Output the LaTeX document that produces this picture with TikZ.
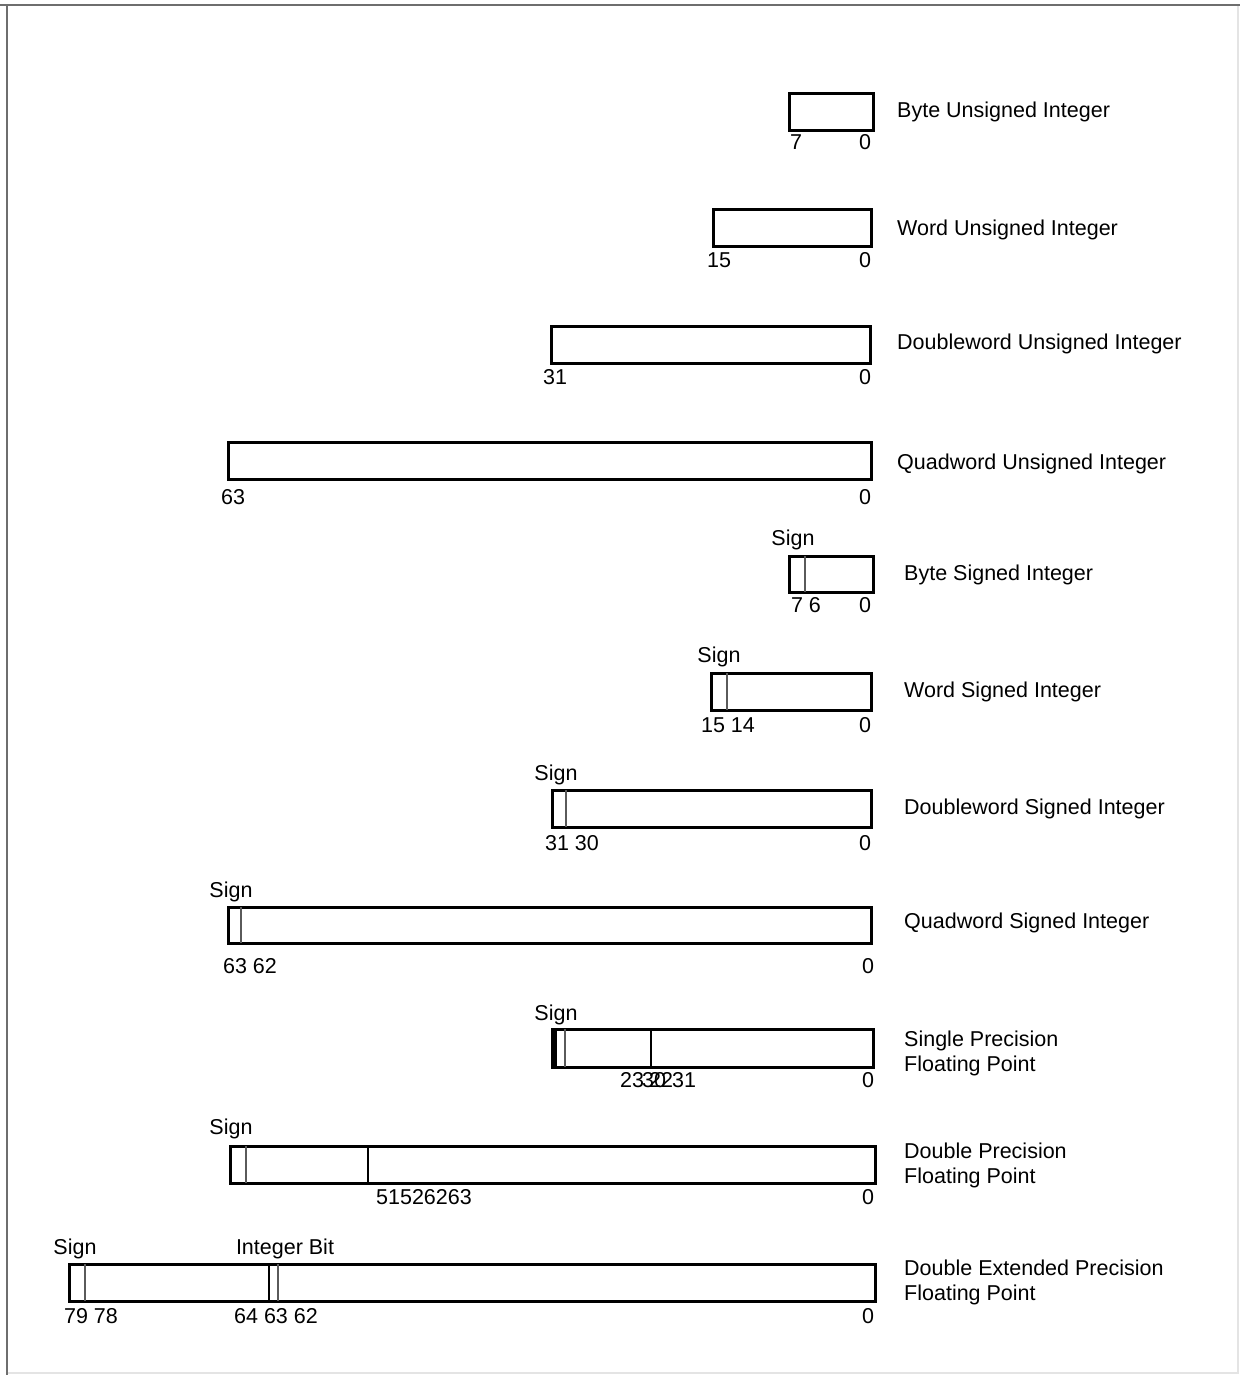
\documentclass[tikz,border=0pt]{standalone}
\usepackage{fontspec}
\setmainfont{Liberation Sans}
\usetikzlibrary{positioning}
\definecolor{FrameGray}{HTML}{6E6E6E}
\definecolor{EdgeGray}{HTML}{E4E4E4}
\definecolor{SplitGray}{HTML}{5A5A5A}
\tikzset{
    fieldbox/.style={
        draw=black,
        fill=white,
        line width=3pt
    },
    splitline/.style={
        draw=SplitGray,
        line width=1.6pt
    },
    bitlabel/.style={
        anchor=base,
        inner sep=0pt,
        font=\fontsize{21.5}{25}\selectfont
    },
    typelabel/.style={
        anchor=base west,
        inner sep=0pt,
        align=left,
        font=\fontsize{21.5}{25}\selectfont
    }
}
\begin{document}
\begin{tikzpicture}[x=1pt, y=-1pt]
    \useasboundingbox (0,0) rectangle (1240,1375);
    % Frame
    \draw[EdgeGray, line width=1.5pt] (1238,5) -- (1238,1373) -- (7,1373);
    \draw[FrameGray, line width=1.5pt] (7,5) -- (7,1375);
    \draw[FrameGray, line width=2.5pt] (0,5) -- (1240,5);

    % Unsigned integers
    \draw[fieldbox] (789,94) rectangle (873,131);
    \node[bitlabel] (bu-hi) at (796,150) {7};
    \node[bitlabel] (bu-lo) at (865,150) {0};
    \node[typelabel] (bu) at (897,118) {Byte Unsigned Integer};

    \draw[fieldbox] (713,209) rectangle (871,246);
    \node[bitlabel] (wu-hi) at (719,267) {15};
    \node[bitlabel] (wu-lo) at (865,267) {0};
    \node[typelabel] (wu) at (897,235) {Word Unsigned Integer};

    \draw[fieldbox] (551,326) rectangle (870,363);
    \node[bitlabel] (du-hi) at (555,384) {31};
    \node[bitlabel] (du-lo) at (865,384) {0};
    \node[typelabel] (du) at (897,349) {Doubleword Unsigned Integer};

    \draw[fieldbox] (228,442) rectangle (871,479);
    \node[bitlabel] (qu-hi) at (233,504) {63};
    \node[bitlabel] (qu-lo) at (865,504) {0};
    \node[typelabel] (qu) at (897,469) {Quadword Unsigned Integer};

    % Signed integers
    \node[bitlabel] (bs-sign) at (793,545) {Sign};
    \draw[fieldbox] (789,556) rectangle (873,592);
    \draw[splitline] (805,556) -- (805,592);
    \node[bitlabel] (bs-hi) at (806,612) {7 6};
    \node[bitlabel] (bs-lo) at (865,612) {0};
    \node[typelabel] (bs) at (904,580) {Byte Signed Integer};

    \node[bitlabel] (ws-sign) at (719,662) {Sign};
    \draw[fieldbox] (711,673) rectangle (871,710);
    \draw[splitline] (727,673) -- (727,710);
    \node[bitlabel] (ws-hi) at (728,732) {15 14};
    \node[bitlabel] (ws-lo) at (865,732) {0};
    \node[typelabel] (ws) at (904,697) {Word Signed Integer};

    \node[bitlabel] (ds-sign) at (556,780) {Sign};
    \draw[fieldbox] (552,790) rectangle (871,827);
    \draw[splitline] (566,790) -- (566,827);
    \node[bitlabel] (ds-hi) at (572,850) {31 30};
    \node[bitlabel] (ds-lo) at (865,850) {0};
    \node[typelabel] (ds) at (904,814) {Doubleword Signed Integer};

    \node[bitlabel] (qs-sign) at (231,897) {Sign};
    \draw[fieldbox] (228,907) rectangle (871,943);
    \draw[splitline] (241,907) -- (241,943);
    \node[bitlabel] (qs-hi) at (250,973) {63 62};
    \node[bitlabel] (qs-lo) at (868,973) {0};
    \node[typelabel] (qs) at (904,928) {Quadword Signed Integer};

    % Floating point
    \node[bitlabel] (sp-sign) at (556,1020) {Sign};
    \draw[fieldbox] (552,1029) rectangle (873,1067);
    \draw[black, line width=5pt] (554,1029) -- (554,1067);
    \draw[splitline] (565,1029) -- (565,1067);
    \draw[splitline, draw=black] (651,1029) -- (651,1067);
    \node[bitlabel] (sp-e) at (632,1087) {23};
    \node[bitlabel] (sp-s) at (654,1087) {30};
    \node[bitlabel] (sp-m) at (661,1087) {22};
    \node[bitlabel] (sp-hi) at (684,1087) {31};
    \node[bitlabel] (sp-lo) at (868,1087) {0};
    \node[typelabel] (sp) at (904,1071) {Single Precision\\Floating Point};

    \node[bitlabel] (dp-sign) at (231,1134) {Sign};
    \draw[fieldbox] (230,1146) rectangle (875,1183);
    \draw[splitline] (246,1146) -- (246,1183);
    \draw[splitline, draw=black] (368,1146) -- (368,1183);
    \node[bitlabel] (dp-hi) at (424,1204) {51526263};
    \node[bitlabel] (dp-lo) at (868,1204) {0};
    \node[typelabel] (dp) at (904,1183) {Double Precision\\Floating Point};

    \node[bitlabel] (ep-sign) at (75,1254) {Sign};
    \node[bitlabel] (ep-int) at (285,1254) {Integer Bit};
    \draw[fieldbox] (69,1264) rectangle (875,1301);
    \draw[splitline] (85,1264) -- (85,1301);
    \draw[splitline, draw=black] (269,1264) -- (269,1301);
    \draw[splitline] (278,1264) -- (278,1301);
    \node[bitlabel] (ep-hi) at (91,1323) {79 78};
    \node[bitlabel] (ep-mid) at (276,1323) {64 63 62};
    \node[bitlabel] (ep-lo) at (868,1323) {0};
    \node[typelabel] (ep) at (904,1300) {Double Extended Precision\\Floating Point};
\end{tikzpicture}
\end{document}
